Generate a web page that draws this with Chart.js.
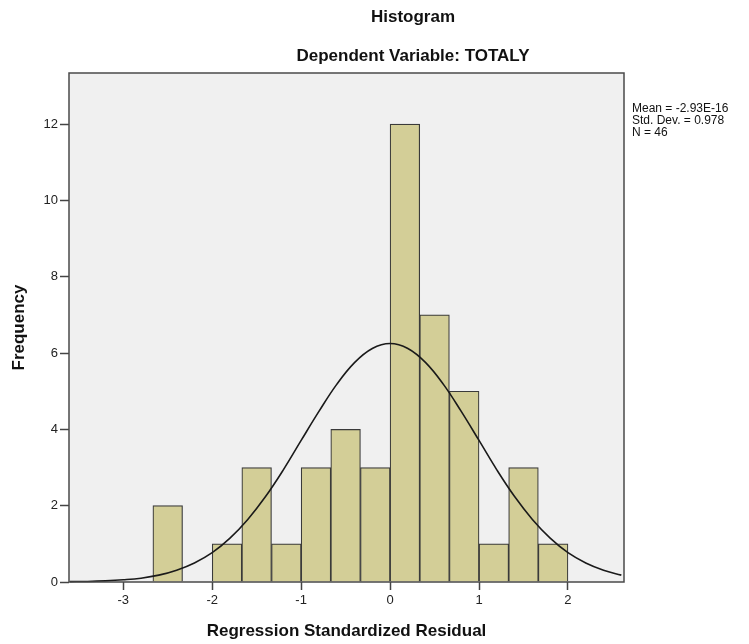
<!DOCTYPE html>
<html>
<head>
<meta charset="utf-8">
<script src="https://cdn.jsdelivr.net/npm/chart.js@4.4.1/dist/chart.umd.min.js"></script>
<style>
    html, body { margin: 0; padding: 0; background: #fff; }
    #wrap { position: relative; width: 749px; height: 644px; font-family: "Liberation Sans", Arial, sans-serif; }
    #histChart { position: absolute; left: 0; top: 0; }
    .title { position: absolute; left: 213px; width: 400px; text-align: center; font-weight: bold; font-size: 17px; color: #111; line-height: 20px; }
    #stats { position: absolute; left: 632px; top: 102px; font-size: 12px; line-height: 12px; color: #111; }
</style>
</head>
<body>
<div id="wrap">
    <canvas id="histChart" width="749" height="644"></canvas>
    <div class="title" style="top:7px">Histogram</div>
    <div class="title" style="top:46px">Dependent Variable: TOTALY</div>
    <div id="stats">Mean = -2.93E-16<br>Std. Dev. = 0.978<br>N = 46</div>
</div>
<script>
// Intervalos del histograma (centro de cada barra, ancho 1/3)
const binCenters = [-2.5, -2.1667, -1.8333, -1.5, -1.1667, -0.8333, -0.5, -0.1667, 0.1667, 0.5, 0.8333, 1.1667, 1.5, 1.8333];
const frequencies = [2, 0, 1, 3, 1, 3, 4, 3, 12, 7, 5, 1, 3, 1];

// Curva normal
const curveX = [-3.6, -3.4, -3.2, -3.0, -2.8, -2.6, -2.4, -2.2, -2.0, -1.8, -1.6, -1.4, -1.2, -1.0, -0.8, -0.6, -0.4, -0.2,
    0, 0.2, 0.4, 0.6, 0.8, 1.0, 1.2, 1.4, 1.6, 1.8, 2.0, 2.2, 2.4, 2.6];
const curveY = [0.01, 0.015, 0.03, 0.057, 0.10, 0.18, 0.31, 0.50, 0.77, 1.15, 1.64, 2.24, 2.94, 3.71, 4.47, 5.18, 5.75, 6.12,
    6.25, 6.12, 5.75, 5.18, 4.47, 3.71, 2.94, 2.24, 1.64, 1.15, 0.77, 0.50, 0.31, 0.18];

// Marcas de los ejes
const xTicks = [-3, -2, -1, 0, 1, 2];
const yTicks = [0, 2, 4, 6, 8, 10, 12];

const plotFrame = {
    id: 'plotFrame',
    beforeDatasetsDraw(chart) {
        const a = chart.chartArea;
        const ctx = chart.ctx;
        ctx.save();
        ctx.fillStyle = '#f0f0f0';
        ctx.fillRect(a.left, a.top, a.right - a.left, a.bottom - a.top);
        ctx.restore();
    },
    afterDraw(chart) {
        const a = chart.chartArea;
        const ctx = chart.ctx;
        ctx.save();
        ctx.strokeStyle = '#4a4a4a';
        ctx.lineWidth = 1.5;
        ctx.strokeRect(a.left, a.top, a.right - a.left, a.bottom - a.top);
        ctx.restore();
    }
};

const tickFont = { family: '"Liberation Sans", Arial, sans-serif', size: 13 };
const titleFont = { family: '"Liberation Sans", Arial, sans-serif', size: 17, weight: 'bold' };

new Chart(document.getElementById('histChart'), {
    data: {
        datasets: [{
            type: 'line',
            data: curveX.map((x, i) => ({ x: x, y: curveY[i] })),
            borderColor: '#1a1a1a',
            borderWidth: 1.6,
            pointRadius: 0,
            tension: 0.4,
            fill: false,
            clip: false,
            order: 0
        }, {
            type: 'bar',
            data: binCenters.map((x, i) => ({ x: x, y: frequencies[i] })),
            backgroundColor: '#d3ce97',
            borderColor: '#3a3a3a',
            borderWidth: 1.2,
            borderSkipped: 'bottom',
            barPercentage: 1,
            categoryPercentage: 1,
            order: 1
        }]
    },
    plugins: [plotFrame],
    options: {
        responsive: false,
        animation: false,
        layout: { padding: { top: 73, right: 125, left: 0, bottom: 0 } },
        plugins: {
            legend: { display: false },
            tooltip: { enabled: false }
        },
        scales: {
            x: {
                type: 'linear',
                offset: false,
                min: -3.61,
                max: 2.63,
                afterBuildTicks: scale => { scale.ticks = xTicks.map(v => ({ value: v })); },
                afterFit: scale => { scale.height = 62; },
                grid: { drawOnChartArea: false, offset: false, tickLength: 8, color: '#444', tickWidth: 1.5 },
                border: { display: false },
                ticks: { font: tickFont, color: '#222', padding: 3, maxRotation: 0 },
                title: { display: true, text: 'Regression Standardized Residual', font: titleFont, color: '#111', padding: { top: 0, bottom: 2 } }
            },
            y: {
                min: 0,
                max: 13.34,
                afterBuildTicks: scale => { scale.ticks = yTicks.map(v => ({ value: v })); },
                afterFit: scale => { scale.width = 69; },
                grid: { drawOnChartArea: false, tickLength: 9, color: '#444', tickWidth: 1.5 },
                border: { display: false },
                ticks: { font: tickFont, color: '#222', padding: 2 },
                title: { display: true, text: 'Frequency', font: titleFont, color: '#111', padding: { top: 9, bottom: 0 } }
            }
        }
    }
});
</script>
</body>
</html>
